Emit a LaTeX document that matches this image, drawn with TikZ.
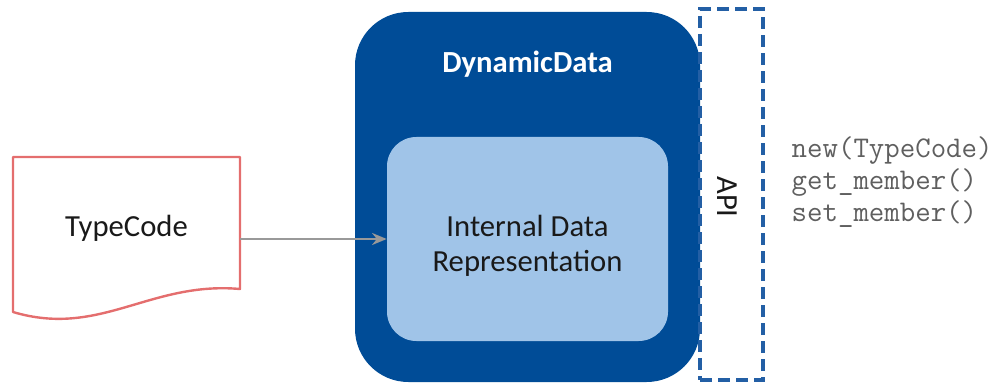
\documentclass[tikz,border=0pt]{standalone}
\usepackage{fontspec}
\setmainfont{Carlito}
\usetikzlibrary{arrows.meta}

\definecolor{ddblue}{RGB}{0,76,151}
\definecolor{irblue}{RGB}{160,196,232}
\definecolor{apiblue}{RGB}{35,95,165}
\definecolor{docred}{RGB}{228,110,110}
\definecolor{codegray}{RGB}{95,95,95}

\tikzstyle{docLine}=[draw=docred,line width=1.8pt,line join=round]
\tikzstyle{outerBox}=[shape=rectangle,fill=ddblue,rounded corners=40pt,inner sep=0pt]
\tikzstyle{innerBox}=[shape=rectangle,fill=irblue,rounded corners=22pt]
\tikzstyle{apiBox}=[shape=rectangle,draw=apiblue,line width=2.4pt,dash pattern=on 9pt off 4.5pt]
\tikzstyle{bigText}=[font=\fontsize{23}{26.5}\selectfont,text=black!90]
\tikzstyle{codeText}=[font=\ttfamily\fontsize{22.5}{24}\selectfont,text=codegray,align=left]

\begin{document}
\begin{tikzpicture}[x=0.75pt,y=-0.75pt]
        \useasboundingbox (0,0) rectangle (997,385);

        % TypeCode document
        \node[bigText,minimum width=170.25pt,minimum height=99.75pt] (doc) at (126.5,228) {TypeCode};
        \draw[docLine] (13,157) -- (240,157) -- (240,289)
            .. controls (150,281) and (100,338) .. (13,312) -- cycle;

        % DynamicData
        \node[outerBox,minimum width=258.75pt,minimum height=277.5pt] (dyn) at (527.5,197) {};
        \node[text=white,font=\bfseries\fontsize{23}{26}\selectfont] (dyntitle) at (527.5,64) {DynamicData};
        \node[innerBox,minimum width=210.75pt,minimum height=153pt] (repr) at (527.5,239) {};
        \node[bigText,align=center] (reprtext) at (527.5,246) {Internal Data\\Representation};

        % API
        \node[apiBox,minimum width=47.25pt,minimum height=278.25pt] (api) at (731.5,194.5) {};
        \node[bigText,rotate=-90] (apitext) at (727,197) {API};
        \node[codeText,anchor=west] (calls) at (787,182) {new(TypeCode)\\get\_member()\\set\_member()};

        \draw [-{Stealth[length=11pt,width=9pt]},draw=gray!80,fill=gray!80,line width=1.8pt] (doc.east |- repr.west) to (repr.west);
    \end{tikzpicture}
\end{document}
